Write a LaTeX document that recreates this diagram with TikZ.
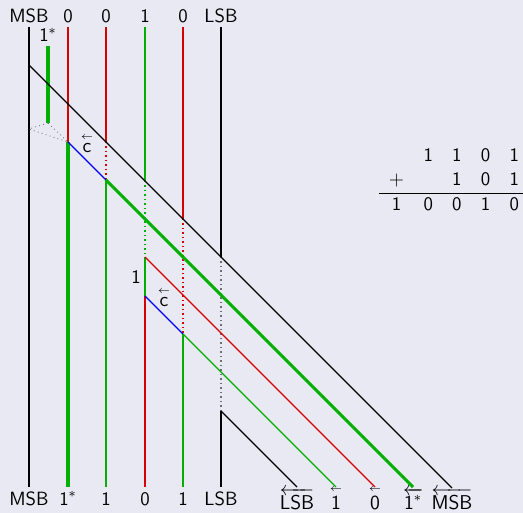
\documentclass[tikz,border=0pt]{standalone}
\usepackage{amsmath}
\definecolor{bgcol}{RGB}{233,233,243}
\definecolor{cred}{RGB}{215,0,0}
\definecolor{cgreen}{RGB}{0,175,0}
\definecolor{cblue}{RGB}{0,0,245}
\definecolor{cgray}{RGB}{110,110,110}
\newcommand{\lar}[1]{\overset{\scriptscriptstyle\leftarrow}{\mathsf{#1}}}
\begin{document}
\begin{tikzpicture}[x=0.6pt, y=-0.6pt, every node/.style={font=\sffamily\fontsize{11.5}{14.6}\selectfont, inner sep=0pt},
  wire/.style={line width=0.7pt}, fat/.style={line width=1.9pt, draw=cgreen}, hidden/.style={dotted, line width=0.7pt}]
  \useasboundingbox (0,0) rectangle (523,513);
  \fill[bgcol] (0,0) rectangle (523,513);
  % columns: top and bottom ends of every bit line
  \foreach \n/\x in {msb/29, a/68, b/106, c/145, d/183, lsb/221} {
    \coordinate (\n-top) at (\x,27); \coordinate (\n-bot) at (\x,487);
  }
  % where the diagonals start (j) and where they cross a column (x)
  \coordinate (d0) at (29,65);   \coordinate (j1) at (68,142);  \coordinate (j2) at (106,180);
  \coordinate (j3) at (145,257); \coordinate (j4) at (145,296); \coordinate (j5) at (183,334);
  \coordinate (j6) at (221,411);
  \coordinate (x1) at (106,142); \coordinate (x2) at (145,181); \coordinate (x3) at (183,219);
  \coordinate (x4) at (221,257);
  \coordinate (e-msb) at (452,488); \coordinate (e-1s) at (413,487); \coordinate (e-0) at (375,487);
  \coordinate (e-1) at (336,487);   \coordinate (e-lsb) at (297,487);
  \coordinate (k0) at (48,46); \coordinate (k1) at (48,123); \coordinate (k2) at (29,129);
  % vertical bit lines
  \draw[wire] (msb-top) -- (msb-bot);
  \draw[wire, cred] (a-top) -- (j1); \draw[fat] (j1) -- (a-bot);
  \draw[wire, cred] (b-top) -- (x1); \draw[hidden, cred] (x1) -- (j2); \draw[wire, cgreen] (j2) -- (b-bot);
  \draw[wire, cgreen] (c-top) -- (x2); \draw[hidden, cgreen] (x2) -- (j3); \draw[wire, cgreen] (j3) -- (j4);
  \draw[wire, cred] (j4) -- (c-bot);
  \draw[wire, cred] (d-top) -- (x3); \draw[hidden, cred] (x3) -- (j5); \draw[wire, cgreen] (j5) -- (d-bot);
  \draw[wire] (lsb-top) -- (x4); \draw[hidden, cgray] (x4) -- (j6); \draw[wire] (j6) -- (lsb-bot);
  % carry out of the top bit
  \draw[fat] (k0) -- (k1);
  \draw[hidden, cgray, line width=0.5pt] (k1) -- (k2) -- (j1) -- cycle;
  % diagonals
  \draw[wire, cblue] (j1) -- (j2); \draw[wire, cblue] (j4) -- (j5);
  \draw[wire] (d0) -- (e-msb);
  \draw[wire, cred] (j3) -- (e-0);
  \draw[wire, cgreen] (j5) -- (e-1);
  \draw[wire] (j6) -- (e-lsb);
  \draw[fat] (j2) -- (e-1s);
  % labels on top
  \foreach \n/\t in {msb/MSB, a/0, b/0, c/1, d/0, lsb/LSB}
    \node[anchor=base] (t-\n) at ([shift={(0,-4)}] \n-top) {\t};
  % labels at the bottom
  \foreach \n/\t in {msb/MSB, a/1$^*$, b/1, c/0, d/1, lsb/LSB}
    \node[anchor=base] (b-\n) at ([shift={(0,18)}] \n-bot) {\t};
  \node[anchor=base] (r-lsb) at ([shift={(0,22)}] e-lsb) {$\overleftarrow{\mathsf{LSB}}$};
  \node[anchor=base] (r-1) at ([shift={(0,22)}] e-1) {$\lar{1}$};
  \node[anchor=base] (r-0) at ([shift={(0,22)}] e-0) {$\lar{0}$};
  \node[anchor=base] (r-1s) at ([shift={(0,22)}] e-1s) {$\overleftarrow{\mathsf{1}^*}$};
  \node[anchor=base] (r-msb) at ([shift={(0,21)}] e-msb) {$\overleftarrow{\mathsf{MSB}}$};
  \node[anchor=base] (k-lbl) at (48,42) {1$^*$};
  \node (c-one) at (136,277) {1};
  \node (cin1) at (87,143) {$\lar{c}$};
  \node (cin2) at (164,297) {$\lar{c}$};
  % the sum
  \node (sum) at (454,181) {\setlength{\tabcolsep}{5.8pt}\begin{tabular}{ccccc}
    & 1 & 1 & 0 & 1 \\ $+$ & & 1 & 0 & 1 \\ \hline 1 & 0 & 0 & 1 & 0 \end{tabular}};
\end{tikzpicture}
\end{document}
